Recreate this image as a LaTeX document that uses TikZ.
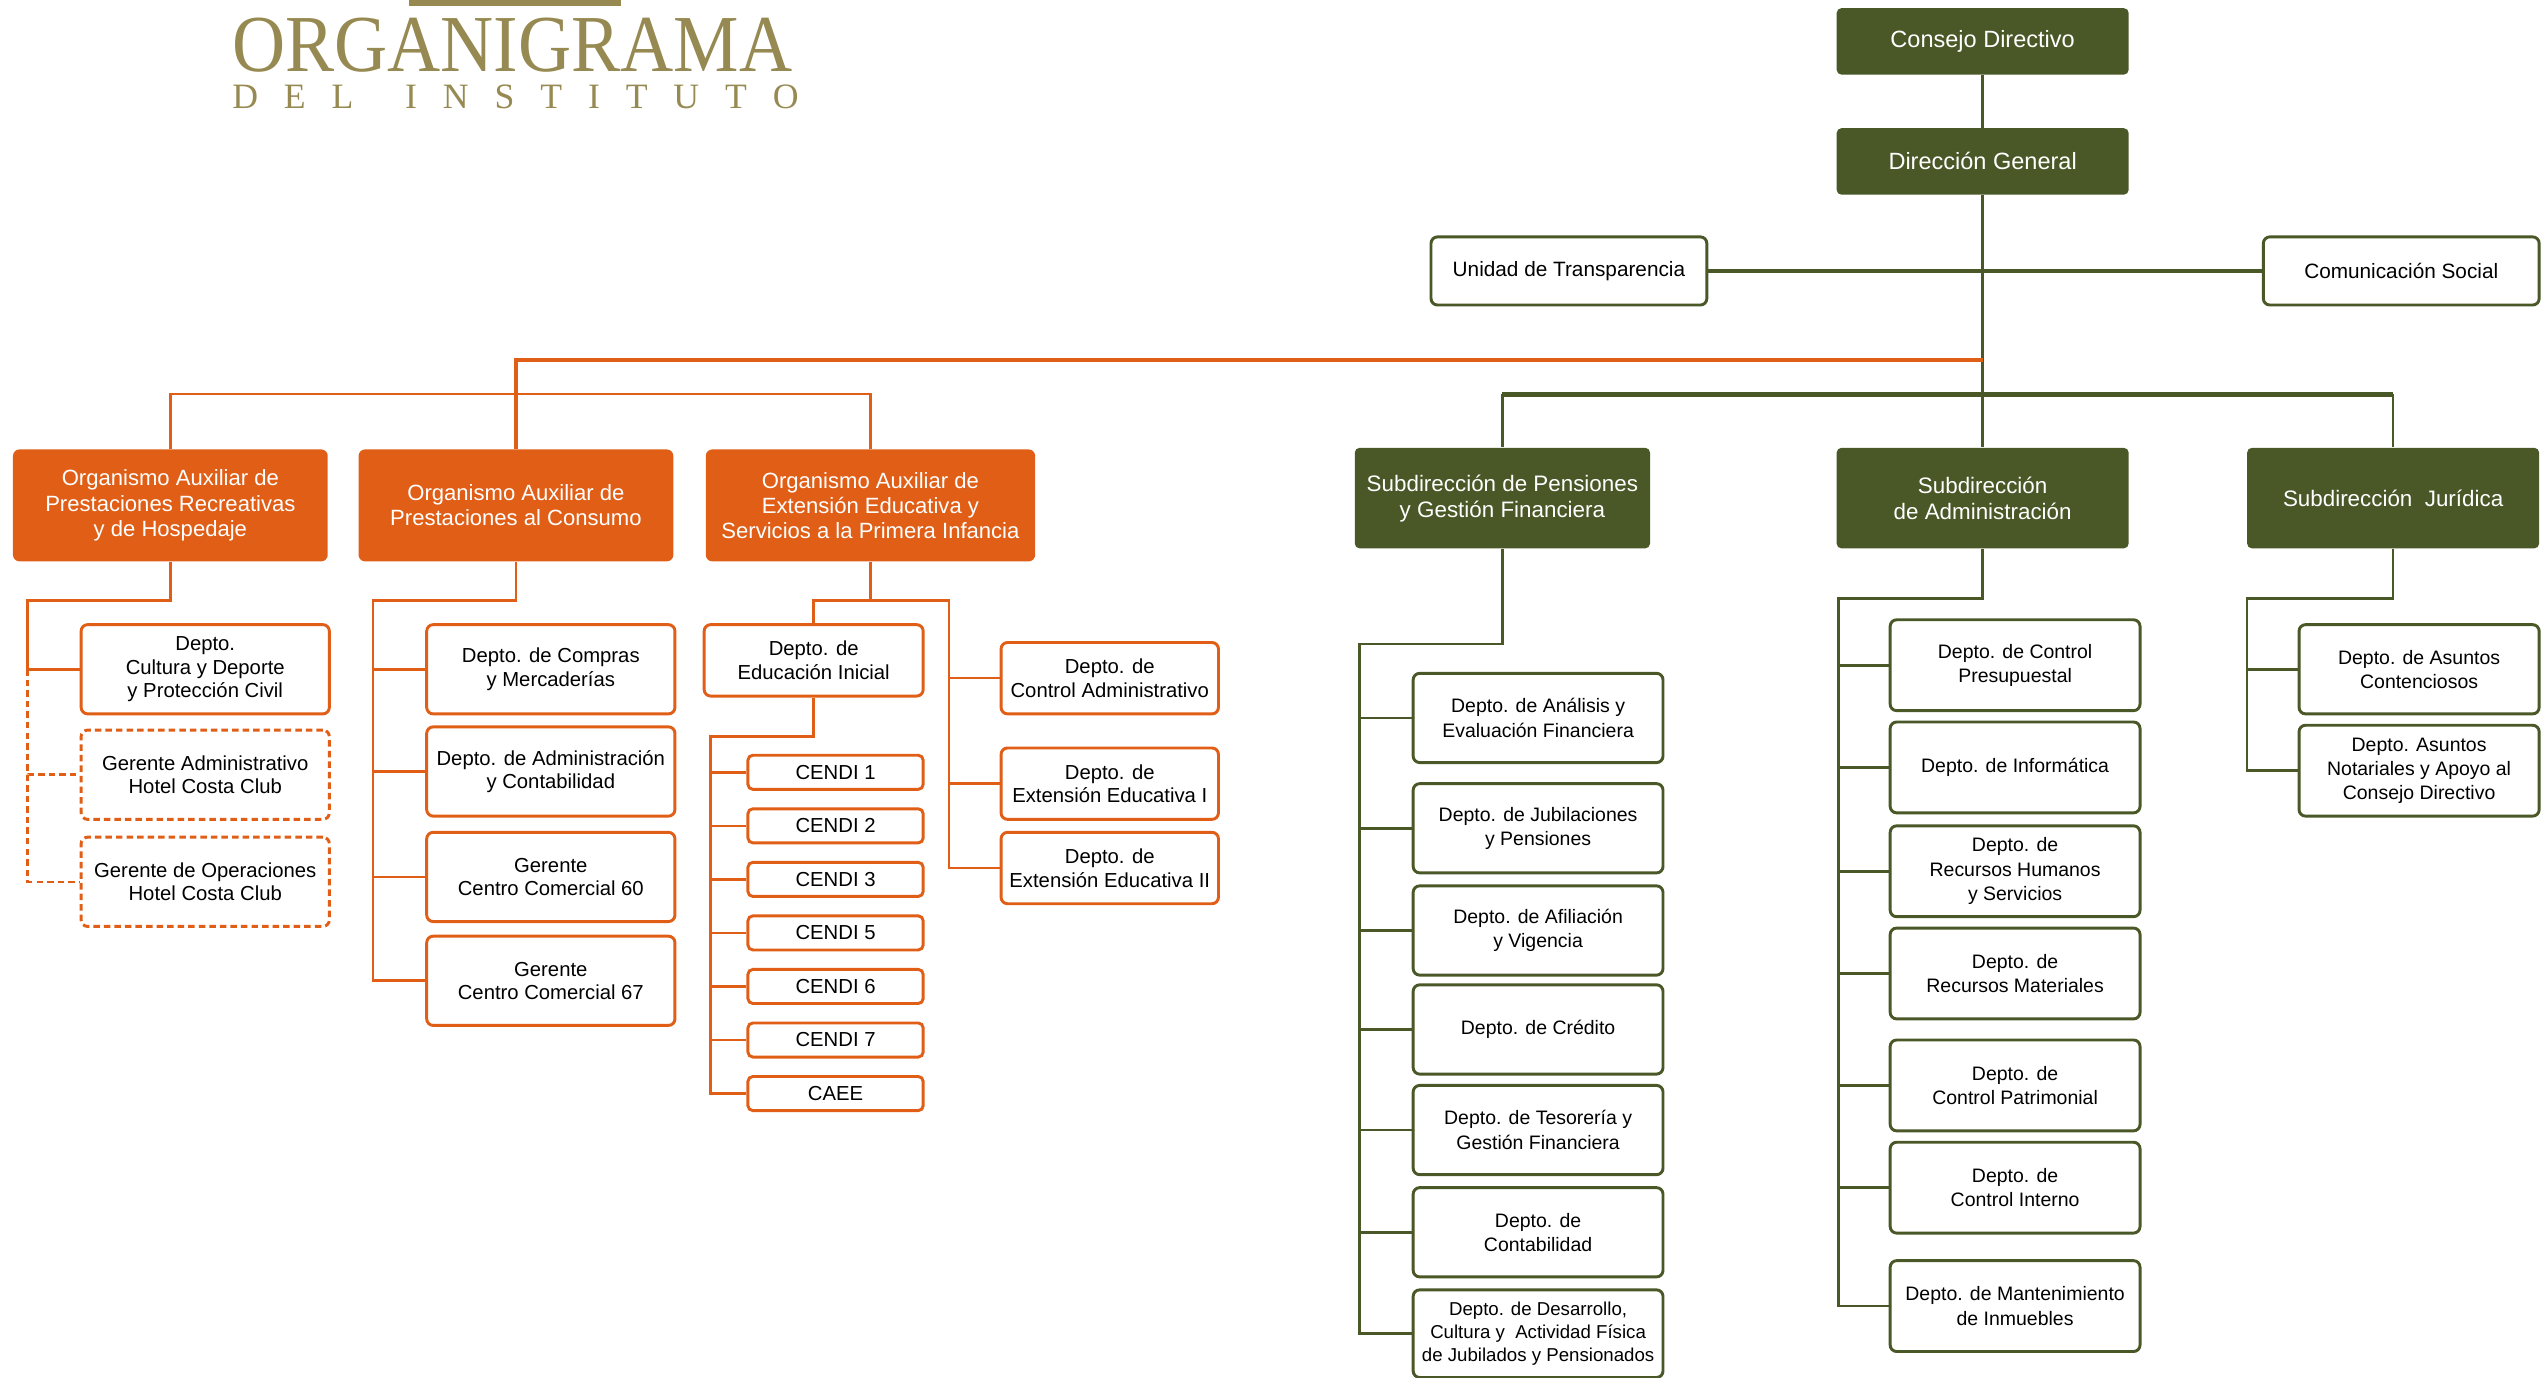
\documentclass[tikz,border=0pt]{standalone}
\usepackage{fontspec}
\usepackage{graphicx}
\setmainfont{Liberation Sans}
\newfontfamily\titlefont{Liberation Serif}
\definecolor{verde}{RGB}{74,87,38}
\definecolor{naranja}{RGB}{224,94,22}
\definecolor{dorado}{RGB}{150,138,82}
\begin{document}
\begin{tikzpicture}[x=1pt,y=-1pt,
  jefe/.style={fill=verde,text=white,rounded corners=3pt,inner sep=0pt,align=center,
    minimum width=180pt,minimum height=41pt,font=\fontsize{14.5}{16}\selectfont},
  subdir/.style={jefe,minimum height=62pt,font=\fontsize{13.8}{16}\selectfont},
  organo/.style={fill=naranja,text=white,rounded corners=4pt,inner sep=0pt,align=center,
    minimum width=194pt,minimum height=69pt,font=\fontsize{13.6}{15.5}\selectfont},
  caja/.style={draw=verde,line width=1.8pt,fill=white,rounded corners=4pt,inner sep=0pt,
    align=center,minimum width=154pt,minimum height=55pt,font=\fontsize{12}{15}\selectfont},
  ocaja/.style={caja,draw=naranja,minimum width=153pt,font=\fontsize{12.5}{14.5}\selectfont},
  punteada/.style={ocaja,dash pattern=on 4pt off 2.5pt},
  cendi/.style={ocaja,minimum width=108pt,minimum height=21pt,rounded corners=3pt},
  verdel/.style={draw=verde,line width=1.6pt},
  naranjal/.style={draw=naranja,line width=1.6pt}]
\useasboundingbox (0,0) rectangle (1568,849);
%
% titulo
\fill[dorado] (252,0) rectangle (383,4);
\node[anchor=south west,inner sep=0pt,text=dorado] (titulo) at (143,45)
  {\titlefont\resizebox{345pt}{33pt}{ORGANIGRAMA}};
\node[anchor=south west,inner sep=0pt,text=dorado] (subtitulo) at (143,67.5)
  {\titlefont\fontsize{22}{22}\selectfont\makebox[349pt][s]{D\hfill E\hfill L\hfill\hfill
   I\hfill N\hfill S\hfill T\hfill I\hfill T\hfill U\hfill T\hfill O}};
%
% direccion
\node[jefe] (consejo) at (1222,25.5) {Consejo Directivo};
\node[jefe] (dirgen) at (1222,99.5) {Dirección General};
\node[caja,minimum width=170pt,minimum height=42pt,font=\fontsize{12.8}{15}\selectfont]
  (transp) at (967,167) {Unidad de Transparencia};
\node[caja,minimum width=170pt,minimum height=42pt,font=\fontsize{12.8}{15}\selectfont]
  (comsoc) at (1480,167) {Comunicación Social};
%
% organismos auxiliares
\node[organo] (orecre) at (105,311.5) {Organismo Auxiliar de\\Prestaciones Recreativas\\y de Hospedaje};
\node[organo] (ocons) at (318,311.5) {Organismo Auxiliar de\\Prestaciones al Consumo};
\node[organo,minimum width=203pt] (oeduc) at (536.5,311.5)
  {Organismo Auxiliar de\\Extensión Educativa y\\Servicios a la Primera Infancia};
%
% subdirecciones
\node[subdir,minimum width=182pt] (spens) at (926,307) {Subdirección de Pensiones\\y Gestión Financiera};
\node[subdir] (sadmin) at (1222,307) {Subdirección\\de Administración};
\node[subdir] (sjur) at (1475,307) {Subdirección~ Jurídica};
%
% prestaciones recreativas
\node[ocaja] (cultura) at (126.5,412.5) {Depto.\\Cultura y Deporte\\y Protección Civil};
\node[punteada] (geradm) at (126.5,477.5) {Gerente Administrativo\\Hotel Costa Club};
\node[punteada] (gerop) at (126.5,543.5) {Gerente de Operaciones\\Hotel Costa Club};
%
% prestaciones al consumo
\node[ocaja] (compras) at (339.5,412.5) {Depto. de Compras\\y Mercaderías};
\node[ocaja] (admcont) at (339.5,475.5) {Depto. de Administración\\y Contabilidad};
\node[ocaja] (cc60) at (339.5,540.5) {Gerente\\Centro Comercial 60};
\node[ocaja] (cc67) at (339.5,604.5) {Gerente\\Centro Comercial 67};
%
% extension educativa
\node[ocaja,minimum width=135pt,minimum height=44pt] (edinic) at (501.5,407) {Depto. de\\Educación Inicial};
\node[cendi] (cendi1) at (515,476) {CENDI 1};
\node[cendi] (cendi2) at (515,509) {CENDI 2};
\node[cendi] (cendi3) at (515,542) {CENDI 3};
\node[cendi] (cendi5) at (515,575) {CENDI 5};
\node[cendi] (cendi6) at (515,608) {CENDI 6};
\node[cendi] (cendi7) at (515,641) {CENDI 7};
\node[cendi] (caee) at (515,674) {CAEE};
\node[ocaja,minimum width=134pt,minimum height=44pt] (ctrladm) at (684,418) {Depto. de\\Control Administrativo};
\node[ocaja,minimum width=134pt,minimum height=44pt] (ext1) at (684,483) {Depto. de\\Extensión Educativa I};
\node[ocaja,minimum width=134pt,minimum height=44pt] (ext2) at (684,535) {Depto. de\\Extensión Educativa II};
%
% pensiones
\node[caja] (analisis) at (948,442.5) {Depto. de Análisis y\\Evaluación Financiera};
\node[caja] (jubil) at (948,510.5) {Depto. de Jubilaciones\\y Pensiones};
\node[caja] (afil) at (948,573.5) {Depto. de Afiliación\\y Vigencia};
\node[caja] (credito) at (948,634.5) {Depto. de Crédito};
\node[caja] (tesor) at (948,696.5) {Depto. de Tesorería y\\Gestión Financiera};
\node[caja] (contab) at (948,759.5) {Depto. de\\Contabilidad};
\node[caja,minimum height=54pt,font=\fontsize{11.5}{14}\selectfont] (desarr) at (948,822)
  {Depto. de Desarrollo,\\Cultura y~ Actividad Física\\de Jubilados y Pensionados};
%
% administracion
\node[caja,minimum height=56pt] (presup) at (1242,410) {Depto. de Control\\Presupuestal};
\node[caja,minimum height=56pt] (inform) at (1242,473) {Depto. de Informática};
\node[caja,minimum height=56pt] (rechum) at (1242,537) {Depto. de\\Recursos Humanos\\y Servicios};
\node[caja,minimum height=56pt] (recmat) at (1242,600) {Depto. de\\Recursos Materiales};
\node[caja,minimum height=56pt] (patrim) at (1242,669) {Depto. de\\Control Patrimonial};
\node[caja,minimum height=56pt] (ctrlint) at (1242,732) {Depto. de\\Control Interno};
\node[caja,minimum height=56pt] (mantto) at (1242,805) {Depto. de Mantenimiento\\de Inmuebles};
%
% juridica
\node[caja,minimum width=148pt] (contenc) at (1491,412.5) {Depto. de Asuntos\\Contenciosos};
\node[caja,minimum width=148pt,minimum height=56pt] (notar) at (1491,475) {Depto. Asuntos\\Notariales y Apoyo al\\Consejo Directivo};
%
% lineas de mando
\coordinate (ot) at (1222,222);
\coordinate (gt) at (1222,243);
\draw[verdel] (consejo) -- (dirgen);
\draw[verdel] (dirgen) -- (sadmin);
\draw[verdel,line width=2.6pt] (transp) -- (comsoc);
\draw[naranjal,line width=2.4pt] (ot) -| (ocons);
\draw[naranjal] (orecre.north) -- ++(0,-34) -| (oeduc.north);
\draw[verdel,line width=3pt] (spens.north |- gt) -- (sjur.north |- gt);
\draw[verdel] (spens.north |- gt) -- (spens.north);
\draw[verdel] (sjur.north |- gt) -- (sjur.north);
%
\coordinate (r1) at (17,370);
\draw[naranjal] (orecre) |- (r1) |- (cultura);
\draw[naranjal,dash pattern=on 4pt off 2.5pt] (r1 |- cultura) |- (geradm);
\draw[naranjal,dash pattern=on 4pt off 2.5pt] (r1 |- geradm) |- (gerop);
%
\coordinate (r2) at (230,370);
\draw[naranjal] (ocons) |- (r2) |- (cc67);
\draw[naranjal] (r2 |- compras) -- (compras);
\draw[naranjal] (r2 |- admcont) -- (admcont);
\draw[naranjal] (r2 |- cc60) -- (cc60);
%
\coordinate (r3) at (585,370);
\draw[naranjal] (oeduc) -- (oeduc.south |- r3);
\draw[naranjal] (edinic) |- (r3) |- (ext2);
\draw[naranjal] (r3 |- ctrladm) -- (ctrladm);
\draw[naranjal] (r3 |- ext1) -- (ext1);
\coordinate (r4) at (438,454);
\draw[naranjal] (edinic) |- (r4) |- (caee);
\draw[naranjal] (r4 |- cendi1) -- (cendi1);
\draw[naranjal] (r4 |- cendi2) -- (cendi2);
\draw[naranjal] (r4 |- cendi3) -- (cendi3);
\draw[naranjal] (r4 |- cendi5) -- (cendi5);
\draw[naranjal] (r4 |- cendi6) -- (cendi6);
\draw[naranjal] (r4 |- cendi7) -- (cendi7);
%
\coordinate (r5) at (838,397);
\draw[verdel] (spens) |- (r5) |- (desarr);
\draw[verdel] (r5 |- analisis) -- (analisis);
\draw[verdel] (r5 |- jubil) -- (jubil);
\draw[verdel] (r5 |- afil) -- (afil);
\draw[verdel] (r5 |- credito) -- (credito);
\draw[verdel] (r5 |- tesor) -- (tesor);
\draw[verdel] (r5 |- contab) -- (contab);
%
\coordinate (r6) at (1133,369);
\draw[verdel] (sadmin) |- (r6) |- (mantto);
\draw[verdel] (r6 |- presup) -- (presup);
\draw[verdel] (r6 |- inform) -- (inform);
\draw[verdel] (r6 |- rechum) -- (rechum);
\draw[verdel] (r6 |- recmat) -- (recmat);
\draw[verdel] (r6 |- patrim) -- (patrim);
\draw[verdel] (r6 |- ctrlint) -- (ctrlint);
%
\coordinate (r7) at (1385,369);
\draw[verdel] (sjur) |- (r7) |- (notar);
\draw[verdel] (r7 |- contenc) -- (contenc);
\end{tikzpicture}
\end{document}
